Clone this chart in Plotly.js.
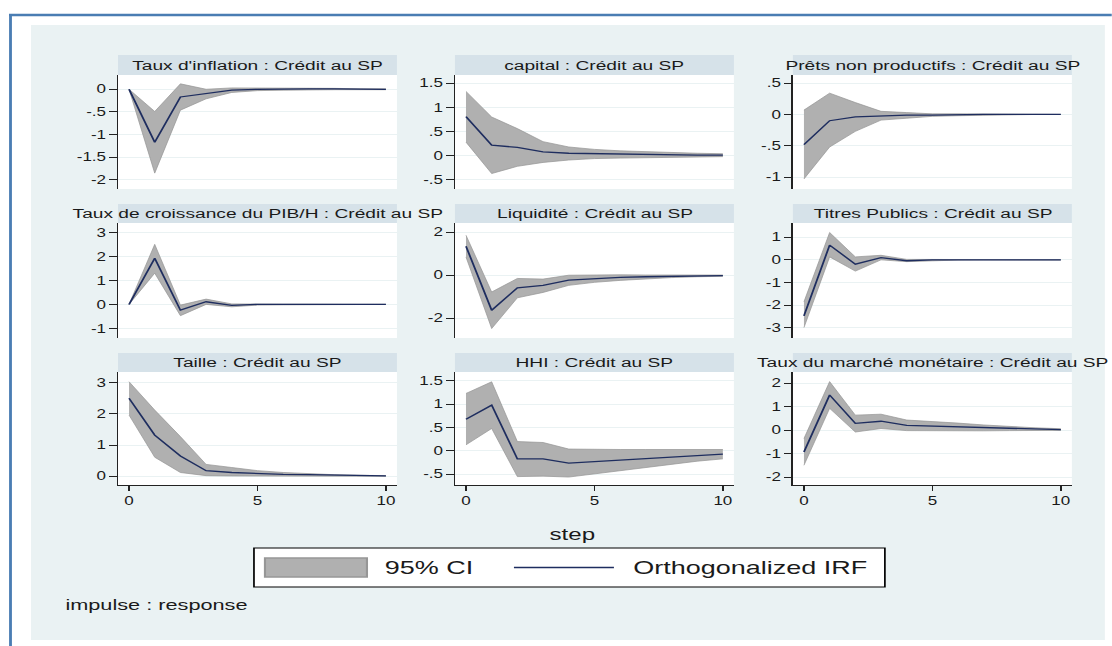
<!DOCTYPE html>
<html>
<head>
<meta charset="utf-8">
<script src="https://cdn.plot.ly/plotly-3.0.1.min.js"></script>
<style>
  html, body { margin: 0; padding: 0; background: #ffffff; overflow: hidden; }
  #irf { transform-origin: 0 0; }
</style>
</head>
<body>
<div id="irf"></div>
<script>
// Horizon (steps after the impulse)
const steps = [0, 1, 2, 3, 4, 5, 6, 7, 8, 9, 10];

// Panel titles: response variable : impulse variable
const panelTitles = [
  "Taux d'inflation : Crédit au SP",
  "capital : Crédit au SP",
  "Prêts non productifs : Crédit au SP",
  "Taux de croissance du PIB/H : Crédit au SP",
  "Liquidité : Crédit au SP",
  "Titres Publics : Crédit au SP",
  "Taille : Crédit au SP",
  "HHI : Crédit au SP",
  "Taux du marché monétaire : Crédit au SP"
];

// Orthogonalized IRF and 95% CI bounds, one set per response
const irfInflation  = [0, -1.17, -0.17, -0.10, -0.02, 0.00, 0.01, 0.01, 0.01, 0.00, 0.00];
const loInflation   = [0, -1.85, -0.46, -0.21, -0.07, -0.03, -0.02, -0.01, -0.01, -0.01, -0.01];
const hiInflation   = [0, -0.49, 0.12, 0.00, 0.03, 0.03, 0.03, 0.02, 0.02, 0.01, 0.01];

const irfCapital    = [0.81, 0.22, 0.17, 0.08, 0.05, 0.04, 0.03, 0.02, 0.02, 0.01, 0.01];
const loCapital     = [0.28, -0.37, -0.22, -0.14, -0.09, -0.06, -0.05, -0.04, -0.03, -0.03, -0.02];
const hiCapital     = [1.33, 0.80, 0.56, 0.29, 0.18, 0.13, 0.10, 0.08, 0.06, 0.05, 0.04];

const irfPrets      = [-0.48, -0.10, -0.04, -0.02, -0.01, -0.01, 0, 0, 0, 0, 0];
const loPrets       = [-1.03, -0.52, -0.27, -0.09, -0.06, -0.03, -0.02, -0.01, -0.01, 0, 0];
const hiPrets       = [0.07, 0.34, 0.19, 0.05, 0.03, 0.01, 0.01, 0.01, 0, 0, 0];

const irfPib        = [0, 1.92, -0.24, 0.11, -0.04, 0.00, 0.00, 0, 0, 0, 0];
const loPib         = [0, 1.30, -0.47, 0.00, -0.10, -0.03, -0.02, -0.01, 0, 0, 0];
const hiPib         = [0, 2.50, -0.03, 0.22, 0.02, 0.03, 0.01, 0.01, 0, 0, 0];

const irfLiquidite  = [1.35, -1.63, -0.59, -0.47, -0.23, -0.15, -0.10, -0.07, -0.05, -0.03, -0.02];
const loLiquidite   = [0.85, -2.48, -1.05, -0.80, -0.47, -0.33, -0.24, -0.16, -0.11, -0.07, -0.05];
const hiLiquidite   = [1.86, -0.78, -0.15, -0.18, 0.00, 0.02, 0.02, 0.01, 0.01, 0.01, 0.01];

const irfTitres     = [-2.48, 0.65, -0.19, 0.10, -0.04, 0.00, 0, 0, 0, 0, 0];
const loTitres      = [-3.00, 0.13, -0.50, 0.00, -0.08, -0.03, -0.01, 0, 0, 0, 0];
const hiTitres      = [-1.86, 1.21, 0.13, 0.20, 0.02, 0.02, 0.01, 0, 0, 0, 0];

const irfTaille     = [2.50, 1.32, 0.65, 0.18, 0.12, 0.08, 0.06, 0.05, 0.03, 0.02, 0.01];
const loTaille      = [1.96, 0.61, 0.12, 0.02, 0.01, 0.01, 0.01, 0.01, 0.00, 0.00, 0.00];
const hiTaille      = [3.03, 2.12, 1.27, 0.38, 0.28, 0.18, 0.12, 0.08, 0.05, 0.03, 0.02];

const irfHhi        = [0.68, 0.98, -0.17, -0.17, -0.26, -0.23, -0.20, -0.17, -0.13, -0.10, -0.07];
const loHhi         = [0.13, 0.48, -0.55, -0.54, -0.56, -0.49, -0.42, -0.35, -0.28, -0.22, -0.17];
const hiHhi         = [1.23, 1.48, 0.20, 0.18, 0.04, 0.03, 0.03, 0.03, 0.03, 0.03, 0.03];

const irfMonetaire  = [-0.93, 1.50, 0.29, 0.38, 0.20, 0.17, 0.13, 0.09, 0.06, 0.04, 0.02];
const loMonetaire   = [-1.50, 0.93, -0.08, 0.07, -0.02, -0.03, -0.03, -0.03, -0.02, -0.01, -0.01];
const hiMonetaire   = [-0.36, 2.07, 0.64, 0.68, 0.43, 0.38, 0.30, 0.22, 0.15, 0.10, 0.06];

// y-axis ticks (Stata style labels) per panel
const yTickVals = [
  [0, -0.5, -1, -1.5, -2],
  [1.5, 1, 0.5, 0, -0.5],
  [0.5, 0, -0.5, -1],
  [3, 2, 1, 0, -1],
  [2, 0, -2],
  [1, 0, -1, -2, -3],
  [3, 2, 1, 0],
  [1.5, 1, 0.5, 0, -0.5],
  [2, 1, 0, -1, -2]
];
const yTickText = [
  ["0", "-.5", "-1", "-1.5", "-2"],
  ["1.5", "1", ".5", "0", "-.5"],
  [".5", "0", "-.5", "-1"],
  ["3", "2", "1", "0", "-1"],
  ["2", "0", "-2"],
  ["1", "0", "-1", "-2", "-3"],
  ["3", "2", "1", "0"],
  ["1.5", "1", ".5", "0", "-.5"],
  ["2", "1", "0", "-1", "-2"]
];
const yRanges = [
  [-2.2, 0.315], [-0.69, 1.67], [-1.19, 0.63],
  [-1.4, 3.39], [-2.92, 2.43], [-3.46, 1.63],
  [-0.28, 3.34], [-0.73, 1.69], [-2.34, 2.48]
];
const xTickVals = [0, 5, 10];
const legendLabels = ["95% CI", "Orthogonalized IRF"];

const irfSeries = [irfInflation, irfCapital, irfPrets, irfPib, irfLiquidite, irfTitres, irfTaille, irfHhi, irfMonetaire];
const loSeries  = [loInflation, loCapital, loPrets, loPib, loLiquidite, loTitres, loTaille, loHhi, loMonetaire];
const hiSeries  = [hiInflation, hiCapital, hiPrets, hiPib, hiLiquidite, hiTitres, hiTaille, hiHhi, hiMonetaire];

// ---- geometry (page pixels) ----
const FULL_W = 1112, FULL_H = 646;
const SX = 1.42;                       // horizontal stretch of the whole figure
const W = Math.round(FULL_W / SX);
const px = v => v / FULL_W;            // page x -> paper
const py = v => 1 - v / FULL_H;        // page y -> paper

const colPx   = [[118, 397], [455, 734], [793, 1072]];
const plotRow = [[75, 189], [223, 338], [372, 485]];
const stripRow = [[55, 75], [204, 223], [353, 372]];

const FONT = "Liberation Sans, Arial, Helvetica, sans-serif";
const TXT = "#1a1a1a";
const BG = "rgb(234,242,243)";
const STRIP = "rgb(214,226,233)";
const GRID = "rgb(234,242,243)";
const BAND_FILL = "rgb(176,176,176)";
const BAND_EDGE = "rgb(150,150,150)";
const NAVY = "#1e2d5f";
const FRAME = "#4a7db3";

const traces = [];
const layout = {
  width: W, height: FULL_H,
  margin: {l: 0, r: 0, t: 0, b: 0},
  paper_bgcolor: "#ffffff",
  plot_bgcolor: "rgba(0,0,0,0)",
  showlegend: false,
  font: {family: FONT, color: TXT},
  shapes: [], annotations: []
};

// page frame and graph region
layout.shapes.push(
  {type: "rect", xref: "paper", yref: "paper", x0: px(31), x1: px(1105), y0: py(640), y1: py(25),
   fillcolor: BG, line: {width: 0}, layer: "below"},
  {type: "line", xref: "paper", yref: "paper", x0: px(9), x1: 1, y0: py(15), y1: py(15),
   line: {color: FRAME, width: 2.5}, layer: "above"},
  {type: "line", xref: "paper", yref: "paper", x0: px(10.5), x1: px(10.5), y0: py(14), y1: 0,
   line: {color: FRAME, width: 2}, layer: "above"}
);

for (let i = 0; i < 9; i++) {
  const row = Math.floor(i / 3), col = i % 3;
  const sfx = i === 0 ? "" : String(i + 1);
  const xa = "x" + sfx, ya = "y" + sfx;
  const [xl, xr] = colPx[col];
  const [yt, yb] = plotRow[row];
  const [st, sb] = stripRow[row];
  const bottom = row === 2;

  layout["xaxis" + sfx] = {
    domain: [px(xl), px(xr)], anchor: ya, range: [-0.43, 10.43],
    showgrid: false, zeroline: false,
    showline: bottom, linecolor: "#222", linewidth: 1,
    ticks: bottom ? "outside" : "", ticklen: 5, tickcolor: "#222",
    tickvals: xTickVals, showticklabels: bottom,
    tickfont: {size: 12, family: FONT, color: TXT}, fixedrange: true
  };
  layout["yaxis" + sfx] = {
    domain: [py(yb), py(yt)], anchor: xa, range: yRanges[i],
    showgrid: true, gridcolor: GRID, gridwidth: 1, zeroline: false,
    showline: true, linecolor: "#222", linewidth: 1,
    ticks: "outside", ticklen: 5, tickcolor: "#222",
    tickvals: yTickVals[i], ticktext: yTickText[i],
    tickfont: {size: 12, family: FONT, color: TXT}, fixedrange: true
  };

  // white plot region and title strip
  layout.shapes.push(
    {type: "rect", xref: "paper", yref: "paper", x0: px(xl), x1: px(xr), y0: py(yb), y1: py(yt),
     fillcolor: "#ffffff", line: {width: 0}, layer: "below"},
    {type: "rect", xref: "paper", yref: "paper", x0: px(xl), x1: px(xr), y0: py(sb), y1: py(st),
     fillcolor: STRIP, line: {width: 0}, layer: "below"}
  );
  layout.annotations.push({
    xref: "paper", yref: "paper", x: px((xl + xr) / 2), y: py((st + sb) / 2),
    xanchor: "center", yanchor: "middle", showarrow: false,
    text: panelTitles[i], font: {size: 13.5, family: FONT, color: TXT}
  });

  traces.push(
    {x: steps, y: hiSeries[i], xaxis: xa, yaxis: ya, mode: "lines",
     line: {color: BAND_EDGE, width: 0.6}, hoverinfo: "skip", name: legendLabels[0]},
    {x: steps, y: loSeries[i], xaxis: xa, yaxis: ya, mode: "lines", fill: "tonexty",
     fillcolor: BAND_FILL, line: {color: BAND_EDGE, width: 0.6}, hoverinfo: "skip", name: legendLabels[0]},
    {x: steps, y: irfSeries[i], xaxis: xa, yaxis: ya, mode: "lines",
     line: {color: NAVY, width: 1.3}, name: legendLabels[1]}
  );
}

// x-axis title
layout.annotations.push({
  xref: "paper", yref: "paper", x: px(572), y: py(534), xanchor: "center", yanchor: "middle",
  showarrow: false, text: "step", font: {size: 17, family: FONT, color: TXT}
});

// legend box
layout.shapes.push(
  {type: "rect", xref: "paper", yref: "paper", x0: px(254), x1: px(885), y0: py(587), y1: py(548),
   fillcolor: "#ffffff", line: {color: "#000", width: 1.2}, layer: "above"},
  {type: "rect", xref: "paper", yref: "paper", x0: px(265), x1: px(367), y0: py(577), y1: py(558),
   fillcolor: BAND_FILL, line: {color: BAND_EDGE, width: 1.5}, layer: "above"},
  {type: "line", xref: "paper", yref: "paper", x0: px(514), x1: px(614), y0: py(567.5), y1: py(567.5),
   line: {color: NAVY, width: 1.5}, layer: "above"}
);
layout.annotations.push(
  {xref: "paper", yref: "paper", x: px(382), y: py(567.5), xanchor: "left", yanchor: "middle",
   showarrow: false, text: legendLabels[0], font: {size: 19, family: FONT, color: TXT}},
  {xref: "paper", yref: "paper", x: px(631), y: py(567.5), xanchor: "left", yanchor: "middle",
   showarrow: false, text: legendLabels[1], font: {size: 19, family: FONT, color: TXT}},
  {xref: "paper", yref: "paper", x: px(63), y: py(604), xanchor: "left", yanchor: "middle",
   showarrow: false, text: "impulse : response", font: {size: 15.3, family: FONT, color: TXT}}
);

const el = document.getElementById("irf");
el.style.width = W + "px";
el.style.height = FULL_H + "px";
el.style.transform = "scaleX(" + SX + ")";
Plotly.newPlot(el, traces, layout, {staticPlot: true, displayModeBar: false});
</script>
</body>
</html>
